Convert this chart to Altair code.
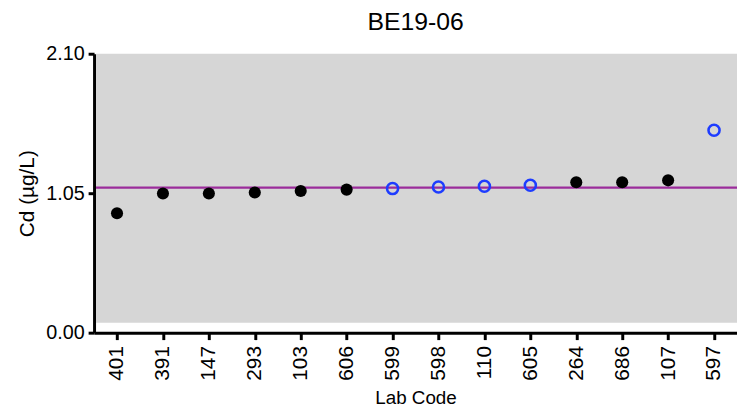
import altair as alt
import pandas as pd

labs = ["401", "391", "147", "293", "103", "606", "599", "598", "110", "605", "264", "686", "107", "597"]
values = [0.899, 1.048, 1.048, 1.055, 1.067, 1.077, 1.085, 1.097, 1.102, 1.110, 1.132, 1.132, 1.147, 1.524]
kinds = ["filled", "filled", "filled", "filled", "filled", "filled", "open", "open", "open", "open",
         "filled", "filled", "filled", "open"]
ref_value = 1.092
y_ticks = [0.0, 1.05, 2.10]

df = pd.DataFrame({"lab": labs, "value": values, "kind": kinds})
filled = df[df["kind"] == "filled"]
opened = df[df["kind"] == "open"]

W, H = 650, 282
FONT = "Liberation Sans"

xenc = alt.X("lab:N", sort=labs, title="Lab Code",
             scale=alt.Scale(type="point", padding=0.5),
             axis=alt.Axis(labelAngle=-90, labelAlign="right", labelBaseline="middle",
                           labelFontSize=21, titleFontSize=19, labelPadding=6, titlePadding=9,
                           tickSize=7, tickWidth=3, domainWidth=3, tickColor="black",
                           domainColor="black", labelColor="black", titleColor="black",
                           grid=False, labelFont=FONT, titleFont=FONT, titleFontWeight="normal"))
yenc = alt.Y("value:Q", title="Cd (µg/L)",
             scale=alt.Scale(domain=[0, 2.1], nice=False, zero=True),
             axis=alt.Axis(values=y_ticks, format=".2f", labelFontSize=20, titleFontSize=21,
                           tickSize=6, tickWidth=3, domainWidth=3, tickColor="black",
                           domainColor="black", labelColor="black", titleColor="black",
                           labelPadding=4, titlePadding=8, grid=False, labelFont=FONT,
                           titleFont=FONT, titleFontWeight="normal"))

bg = alt.Chart(pd.DataFrame({"a": [0]})).mark_rect(color="#D6D6D6").encode(
    x=alt.value(2), x2=alt.value(W), y=alt.value(0), y2=alt.value(272))

ref = alt.Chart(pd.DataFrame({"v": [ref_value]})).mark_rule(color="#9B2C9B", strokeWidth=2.5).encode(
    y=alt.Y("v:Q", scale=alt.Scale(domain=[0, 2.1], nice=False)), x=alt.value(2), x2=alt.value(W))

pts_f = alt.Chart(filled).mark_point(filled=True, shape="circle", size=150, color="black", opacity=1).encode(
    x=xenc, y=yenc)
pts_o = alt.Chart(opened).mark_point(filled=False, shape="circle", size=125, color="#1E3CFF",
                                      strokeWidth=2.6, opacity=1).encode(x=xenc, y=yenc)

chart = alt.layer(bg, ref, pts_f, pts_o).properties(
    width=W, height=H,
    title=alt.TitleParams("BE19-06", fontSize=25, font=FONT, fontWeight="normal", color="black",
                          anchor="middle", offset=9),
    autosize=alt.AutoSizeParams(type="none"),
    padding={"left": 87, "top": 44, "right": 0, "bottom": 82},
).configure_view(stroke=None, fill=None)

chart.save("out.html", embed_options={"renderer": "svg", "actions": False})
